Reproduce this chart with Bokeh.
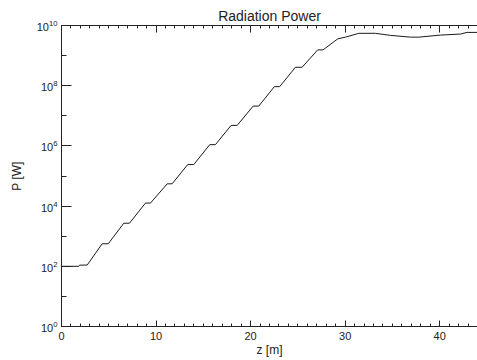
from bokeh.plotting import figure
from bokeh.models import FixedTicker, LinearAxis, Range1d, ColumnDataSource, LogTickFormatter
from bokeh.embed import file_html
from bokeh.resources import INLINE

# Data (z in metres, P in watts)
z = [0.0, 1.83, 1.90, 2.72, 4.30, 4.94, 6.59, 7.19, 8.88, 9.41, 11.18, 11.70,
     13.35, 13.99, 15.68, 16.28, 17.94, 18.58, 20.27, 20.86, 22.52, 23.08,
     24.74, 25.45, 27.10, 27.67, 29.22, 30.03, 31.44, 33.20, 34.79, 36.90,
     37.78, 40.07, 42.19, 42.90, 44.0]
P = [1.0e2, 1.0e2, 1.09e2, 1.1e2, 5.6e2, 5.6e2, 2.7e3, 2.7e3, 1.26e4, 1.26e4,
     5.5e4, 5.5e4, 2.4e5, 2.4e5, 1.1e6, 1.1e6, 4.8e6, 4.8e6, 2.1e7, 2.1e7,
     9.3e7, 9.3e7, 4.1e8, 4.1e8, 1.55e9, 1.55e9, 3.6e9, 4.1e9, 5.5e9, 5.5e9,
     4.7e9, 4.1e9, 4.1e9, 4.8e9, 5.2e9, 5.9e9, 5.9e9]

x_major_ticks = [0, 10, 20, 30, 40]
x_minor_ticks = list(range(0, 45))
y_major_ticks = [1e0, 1e2, 1e4, 1e6, 1e8, 1e10]
y_minor_ticks = [1e1, 1e3, 1e5, 1e7, 1e9]

title_text = "Radiation Power"
x_label = "z [m]"
y_label = "P [W]"

FONT = "Liberation Sans"

p = figure(width=477, height=360, x_range=Range1d(0, 44), y_range=Range1d(1, 1e10),
           y_axis_type="log", output_backend="svg", toolbar_location=None,
           min_border_left=61, min_border_right=0, min_border_top=25, min_border_bottom=34)
p.outline_line_color = None
p.grid.visible = False

p.title.text = title_text
p.title.align = "center"
p.title.text_font = FONT
p.title.text_font_size = "14px"
p.title.text_font_style = "normal"
p.title.text_color = "#222222"
p.title.standoff = 4

src = ColumnDataSource(dict(z=z, P=P))
p.line("z", "P", source=src, line_color="#1a1a1a", line_width=1)

xa = p.xaxis[0]
xa.ticker = FixedTicker(ticks=x_major_ticks, minor_ticks=x_minor_ticks)
xa.axis_label = x_label
ya = p.yaxis[0]
ya.ticker = FixedTicker(ticks=y_major_ticks, minor_ticks=y_minor_ticks)
ya.formatter = LogTickFormatter(min_exponent=0)
ya.axis_label = y_label

for ax in (xa, ya):
    ax.axis_line_color = "#222222"
    ax.major_tick_line_color = "#222222"
    ax.minor_tick_line_color = "#222222"
    ax.major_tick_out = 0
    ax.minor_tick_out = 0
    ax.major_label_text_font = FONT
    ax.major_label_text_font_size = "11px"
    ax.major_label_text_color = "#222222"
    ax.axis_label_text_font = FONT
    ax.axis_label_text_font_size = "12px"
    ax.axis_label_text_font_style = "normal"
    ax.axis_label_text_color = "#222222"

xa.major_tick_in = 6
xa.minor_tick_in = 3
xa.major_label_standoff = 5
xa.axis_label_standoff = 0
ya.major_tick_in = 10
ya.minor_tick_in = 5
ya.major_label_standoff = 4
ya.axis_label_standoff = 10

top = LinearAxis(ticker=FixedTicker(ticks=x_major_ticks, minor_ticks=x_minor_ticks),
                 major_label_overrides={t: "" for t in x_major_ticks},
                 major_label_standoff=0,
                 axis_line_color="#222222", major_tick_line_color="#222222",
                 minor_tick_line_color="#222222", major_tick_in=7, major_tick_out=0,
                 minor_tick_in=3, minor_tick_out=0)
p.add_layout(top, "above")

open("out.html", "w").write(file_html(p, INLINE))
